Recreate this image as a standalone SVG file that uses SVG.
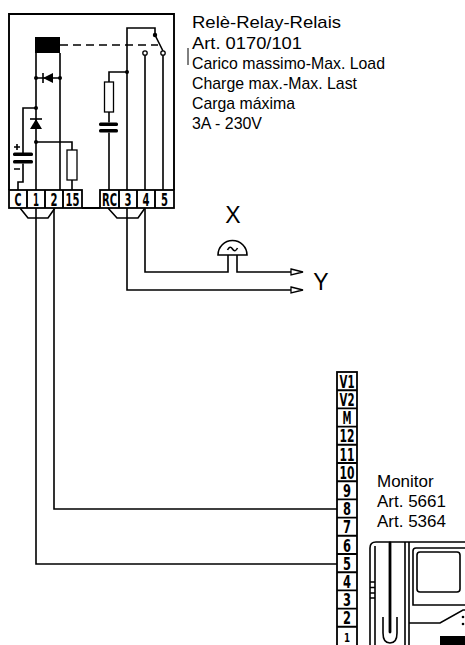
<svg xmlns="http://www.w3.org/2000/svg" width="465" height="645" viewBox="0 0 465 645">
  <style>
    .ln{fill:none;stroke:#000;stroke-width:1.6}
    .thick{fill:none;stroke:#000;stroke-width:1.9}
    .cell{fill:#fff;stroke:#000;stroke-width:1.8}
    .blk{fill:#000}
    .open{fill:#fff;stroke:#000;stroke-width:1.3}
    .lbl{font-family:"Liberation Sans",Arial,sans-serif;font-size:17px;fill:#000}
    .big{font-family:"Liberation Sans",Arial,sans-serif;font-size:23px;fill:#000;text-anchor:middle}
    .term{font-family:"DejaVu Sans Condensed","DejaVu Sans",sans-serif;font-stretch:condensed;font-weight:bold;font-size:17px;text-anchor:middle;fill:#000}
    .term.small{font-size:13px}
  </style>
  <defs>
    <marker id="arr" viewBox="0 0 14 8" refX="1" refY="4" markerWidth="14" markerHeight="8" markerUnits="userSpaceOnUse" orient="auto">
      <path d="M1,1 L13,4 L1,7 Z" fill="#fff" stroke="#000" stroke-width="1.3"/>
    </marker>
  </defs>

  <!-- Relay module 0170/101 -->
  <g id="relay">
    <path class="thick" d="M9,190 V14 H174 V190"/>
    <!-- terminal strip -->
    <rect class="cell" x="9" y="190" width="73" height="18"/>
    <rect class="cell" x="100" y="190" width="74" height="18"/>
    <path class="thick" d="M27,190 V208 M45,190 V208 M63,190 V208 M119,190 V208 M137,190 V208 M155,190 V208 M82,208 H100"/>
    <text class="term" x="18" y="205.5" textLength="7" lengthAdjust="spacingAndGlyphs">C</text>
    <text class="term" x="36" y="205.5" textLength="6" lengthAdjust="spacingAndGlyphs">1</text>
    <text class="term" x="54" y="205.5" textLength="7" lengthAdjust="spacingAndGlyphs">2</text>
    <text class="term" x="72.5" y="205.5" textLength="14" lengthAdjust="spacingAndGlyphs">15</text>
    <text class="term" x="109.5" y="205.5" textLength="15" lengthAdjust="spacingAndGlyphs">RC</text>
    <text class="term" x="128" y="205.5" textLength="7" lengthAdjust="spacingAndGlyphs">3</text>
    <text class="term" x="146" y="205.5" textLength="7" lengthAdjust="spacingAndGlyphs">4</text>
    <text class="term" x="164.5" y="205.5" textLength="7" lengthAdjust="spacingAndGlyphs">5</text>

    <!-- coil with flyback diode -->
    <rect class="blk" x="35" y="37" width="25" height="16"/>
    <path class="ln" d="M60,45 H158" stroke-dasharray="8 5"/>
    <path class="ln" d="M36,53 V190 M60,53 V190 M36,78 H60"/>
    <path class="ln" d="M43,73 V83"/>
    <polygon class="blk" points="43,78 53,73 53,83"/>
    <circle class="blk" cx="36" cy="78" r="2"/>
    <circle class="blk" cx="60" cy="78" r="2"/>

    <!-- series diode, timing capacitor and resistor -->
    <path class="ln" d="M30,119 H42"/>
    <polygon class="blk" points="36,119 30,129 42,129"/>
    <circle class="blk" cx="36" cy="108" r="2"/>
    <path class="ln" d="M36,108 H23 V153 M23,163.5 V182 H18 V190"/>
    <rect class="blk" x="13" y="152.5" width="20" height="3.6" rx="1.5"/>
    <rect class="blk" x="13" y="160" width="20" height="3.6" rx="1.5"/>
    <path class="ln" d="M14,147 H20 M17,144 V150 M14,169 H20"/>
    <circle class="blk" cx="36" cy="142" r="2"/>
    <path class="ln" d="M36,142 H72 V150 M72,180 V190"/>
    <rect class="open" x="67" y="150" width="10" height="30" stroke-width="1.5"/>

    <!-- changeover contact 3-4-5 -->
    <path class="ln" d="M127,190 V28 H155 V35 M155,35 L163,51 M145,55 V190 M163,55 V190"/>
    <circle class="blk" cx="155" cy="35" r="2.2"/>
    <circle class="open" cx="145" cy="53" r="2.2"/>
    <circle class="open" cx="163" cy="53" r="2.2"/>

    <!-- RC snubber -->
    <circle class="blk" cx="127" cy="72" r="2"/>
    <path class="ln" d="M127,72 H109 V82 M109,112 V122.5 M109,132.5 V190"/>
    <rect class="open" x="104.5" y="82" width="9" height="30" stroke-width="1.5"/>
    <rect class="blk" x="99" y="122.5" width="19" height="3.6" rx="1.5"/>
    <rect class="blk" x="99" y="129" width="19" height="3.6" rx="1.5"/>
  </g>

  <!-- Relay ratings -->
  <g id="relay-label">
    <path d="M188,48 V65" stroke="#000" stroke-width="1"/>
    <text class="lbl" x="192" y="28" textLength="149" lengthAdjust="spacingAndGlyphs">Relè-Relay-Relais</text>
    <text class="lbl" x="192" y="48.5" textLength="110" lengthAdjust="spacingAndGlyphs">Art. 0170/101</text>
    <text class="lbl" x="192" y="69" textLength="193" lengthAdjust="spacingAndGlyphs">Carico massimo-Max. Load</text>
    <text class="lbl" x="192" y="89" textLength="165" lengthAdjust="spacingAndGlyphs">Charge max.-Max. Last</text>
    <text class="lbl" x="192" y="109" textLength="103" lengthAdjust="spacingAndGlyphs">Carga máxima</text>
    <text class="lbl" x="192" y="129" textLength="70" lengthAdjust="spacingAndGlyphs">3A - 230V</text>
  </g>

  <!-- Load lamp -->
  <g id="lamp">
    <path class="ln" d="M218,255 A14.5,14.5 0 0 1 247,255 Z" fill="#fff"/>
    <path class="ln" d="M227.5,250 Q230,245 232.5,249 Q235,253 237.5,248" stroke-width="1.3"/>
    <text class="big" x="233" y="223">X</text>
  </g>

  <g id="load-out">
    <text class="big" x="321" y="290">Y</text>
  </g>

  <!-- Monitor terminal strip -->
  <g id="monitor-terminals">
    <rect class="cell" x="337" y="372" width="20" height="276"/>
    <path class="thick" d="M337,390.2 H357 M337,408.4 H357 M337,426.6 H357 M337,444.8 H357 M337,463 H357 M337,481.2 H357 M337,499.4 H357 M337,517.6 H357 M337,535.8 H357 M337,554 H357 M337,572.2 H357 M337,590.4 H357 M337,608.6 H357 M337,626.8 H357"/>
    <text class="term" x="347" y="387.8" textLength="15" lengthAdjust="spacingAndGlyphs">V1</text>
    <text class="term" x="347" y="406" textLength="15" lengthAdjust="spacingAndGlyphs">V2</text>
    <text class="term" x="347" y="424.2" textLength="9" lengthAdjust="spacingAndGlyphs">M</text>
    <text class="term" x="347" y="442.4" textLength="15" lengthAdjust="spacingAndGlyphs">12</text>
    <text class="term" x="347" y="460.6" textLength="15" lengthAdjust="spacingAndGlyphs">11</text>
    <text class="term" x="347" y="478.8" textLength="15" lengthAdjust="spacingAndGlyphs">10</text>
    <text class="term" x="347" y="497" textLength="8" lengthAdjust="spacingAndGlyphs">9</text>
    <text class="term" x="347" y="515.2" textLength="8" lengthAdjust="spacingAndGlyphs">8</text>
    <text class="term" x="347" y="533.4" textLength="8" lengthAdjust="spacingAndGlyphs">7</text>
    <text class="term" x="347" y="551.6" textLength="8" lengthAdjust="spacingAndGlyphs">6</text>
    <text class="term" x="347" y="569.8" textLength="8" lengthAdjust="spacingAndGlyphs">5</text>
    <text class="term" x="347" y="588" textLength="8" lengthAdjust="spacingAndGlyphs">4</text>
    <text class="term" x="347" y="606.2" textLength="8" lengthAdjust="spacingAndGlyphs">3</text>
    <text class="term" x="347" y="624.4" textLength="8" lengthAdjust="spacingAndGlyphs">2</text>
    <text class="term small" x="347" y="641.8" textLength="6" lengthAdjust="spacingAndGlyphs">1</text>
  </g>

  <!-- Monitor unit -->
  <g id="monitor">
    <text class="lbl" x="377" y="487">Monitor</text>
    <text class="lbl" x="377" y="507">Art. 5661</text>
    <text class="lbl" x="377" y="527">Art. 5364</text>
    <path class="ln" d="M370,645 V548 Q370,542 376,542 H465"/>
    <path class="ln" d="M375,546 V645"/>
    <path class="ln" d="M370,582 H375 M370,587.5 H375 M370,593 H375 M370,598 H375" stroke-width="1.3"/>
    <path d="M390,543 V632" stroke="#000" stroke-width="2.8" stroke-linecap="round"/>
    <path class="ln" d="M383,617 V633 Q383,643 390,643 Q397,643 397,633 V617" stroke-width="1.3"/>
    <path class="ln" d="M405,542 V645 M409,542 V645"/>
    <path class="ln" d="M465,548 H416 Q413,548 413,551 V605 H465"/>
    <rect class="ln" x="417" y="552" width="43" height="40" rx="3"/>
    <path class="ln" d="M409,623 H440 L463,610 H465"/>
    <circle class="blk" cx="463" cy="617" r="1.3"/>
    <circle class="blk" cx="463" cy="624" r="1.3"/>
    <rect class="blk" x="440" y="636" width="25" height="9"/>
  </g>

  <!-- Connections -->
  <g id="connectors">
    <path class="ln" d="M20,208 L28,218 H48 L55,208"/>
    <path class="ln" d="M108,208 L117,218 H138 L145,208"/>
    <path class="ln" d="M36,208 V564 H337"/>
    <path class="ln" d="M54,208 V509 H337"/>
    <path class="ln" d="M145,208 V272 H228 V255"/>
    <path class="ln" d="M237,255 V272 H291" marker-end="url(#arr)"/>
    <path class="ln" d="M127,208 V290 H291" marker-end="url(#arr)"/>
  </g>
</svg>
